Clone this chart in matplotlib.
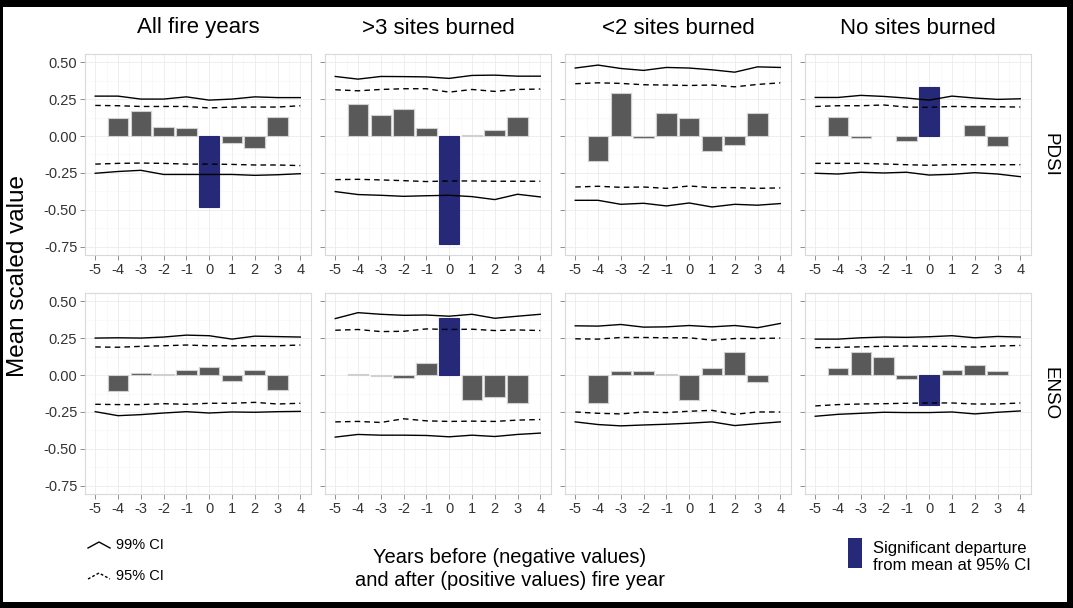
import matplotlib
matplotlib.use("Agg")
import matplotlib.pyplot as plt
import numpy as np
from matplotlib.patches import Rectangle
from matplotlib.lines import Line2D

plt.rcParams['font.family'] = ['Liberation Sans', 'DejaVu Sans']

years = [-5, -4, -3, -2, -1, 0, 1, 2, 3, 4]
bar_years = [-4, -3, -2, -1, 0, 1, 2, 3]
columns = ["All fire years", ">3 sites burned", "<2 sites burned", "No sites burned"]
rows = ["PDSI", "ENSO"]

# bar values (years -4..3); NaN = no bar
pdsi_all = [0.12, 0.17, 0.063, 0.056, -0.48, -0.05, -0.079, 0.128]
pdsi_gt3 = [0.214, 0.142, 0.18, 0.052, -0.732, 0.005, 0.043, 0.128]
pdsi_lt2 = [-0.169, 0.29, -0.014, 0.155, 0.12, -0.101, -0.059, 0.153]
pdsi_none = [0.126, -0.016, np.nan, -0.036, 0.331, np.nan, 0.074, -0.068]
enso_all = [-0.106, 0.011, 0.007, 0.036, 0.056, -0.038, 0.036, -0.101]
enso_gt3 = [0.005, -0.007, -0.02, 0.081, 0.386, -0.168, -0.148, -0.191]
enso_lt2 = [-0.187, 0.027, 0.025, 0.004, -0.169, 0.045, 0.155, -0.047]
enso_none = [0.05, 0.155, 0.122, -0.025, -0.203, 0.034, 0.068, 0.027]

# significant bars (year 0 flagged)
sig_pdsi = [True, True, False, True]
sig_enso = [False, True, False, True]

# confidence limits (years -5..4): 99 upper, 95 upper, 95 lower, 99 lower
ci_pdsi_all = ([0.27, 0.27, 0.25, 0.25, 0.265, 0.243, 0.25, 0.265, 0.26, 0.26],
               [0.207, 0.205, 0.2, 0.2, 0.2, 0.19, 0.196, 0.196, 0.196, 0.205],
               [-0.19, -0.185, -0.183, -0.185, -0.19, -0.19, -0.192, -0.196, -0.196, -0.2],
               [-0.252, -0.24, -0.232, -0.26, -0.26, -0.26, -0.26, -0.266, -0.262, -0.255])
ci_pdsi_gt3 = ([0.403, 0.385, 0.403, 0.402, 0.4, 0.39, 0.41, 0.412, 0.405, 0.405],
               [0.313, 0.306, 0.315, 0.32, 0.32, 0.297, 0.315, 0.302, 0.315, 0.318],
               [-0.295, -0.293, -0.297, -0.302, -0.308, -0.304, -0.304, -0.306, -0.306, -0.306],
               [-0.376, -0.396, -0.401, -0.408, -0.404, -0.401, -0.41, -0.43, -0.394, -0.412])
ci_pdsi_lt2 = ([0.46, 0.48, 0.457, 0.444, 0.464, 0.46, 0.448, 0.432, 0.468, 0.464],
               [0.354, 0.36, 0.356, 0.347, 0.345, 0.342, 0.345, 0.333, 0.349, 0.36],
               [-0.345, -0.34, -0.347, -0.345, -0.354, -0.338, -0.349, -0.349, -0.354, -0.351],
               [-0.435, -0.435, -0.462, -0.455, -0.473, -0.453, -0.48, -0.462, -0.468, -0.457])
ci_pdsi_none = ([0.261, 0.261, 0.275, 0.268, 0.257, 0.243, 0.27, 0.257, 0.248, 0.252],
                [0.2, 0.205, 0.205, 0.21, 0.196, 0.194, 0.2, 0.198, 0.198, 0.196],
                [-0.185, -0.185, -0.185, -0.189, -0.194, -0.198, -0.194, -0.194, -0.194, -0.194],
                [-0.252, -0.257, -0.245, -0.25, -0.245, -0.264, -0.259, -0.248, -0.257, -0.275])
ci_enso_all = ([0.25, 0.252, 0.25, 0.257, 0.27, 0.266, 0.243, 0.263, 0.26, 0.257],
               [0.19, 0.188, 0.194, 0.198, 0.203, 0.198, 0.198, 0.198, 0.198, 0.203],
               [-0.198, -0.2, -0.2, -0.194, -0.198, -0.191, -0.191, -0.185, -0.196, -0.191],
               [-0.248, -0.275, -0.268, -0.257, -0.248, -0.257, -0.25, -0.252, -0.248, -0.246])
ci_enso_gt3 = ([0.382, 0.422, 0.411, 0.404, 0.406, 0.398, 0.411, 0.384, 0.398, 0.411],
               [0.303, 0.308, 0.294, 0.296, 0.312, 0.308, 0.31, 0.301, 0.305, 0.301],
               [-0.317, -0.314, -0.321, -0.296, -0.31, -0.314, -0.312, -0.314, -0.305, -0.301],
               [-0.42, -0.402, -0.407, -0.407, -0.409, -0.418, -0.407, -0.416, -0.402, -0.393])
ci_enso_lt2 = ([0.333, 0.331, 0.342, 0.324, 0.326, 0.335, 0.326, 0.335, 0.32, 0.349],
               [0.245, 0.243, 0.254, 0.254, 0.252, 0.252, 0.236, 0.247, 0.247, 0.25],
               [-0.25, -0.259, -0.263, -0.25, -0.254, -0.245, -0.239, -0.266, -0.25, -0.25],
               [-0.317, -0.335, -0.344, -0.338, -0.333, -0.326, -0.317, -0.342, -0.329, -0.317])
ci_enso_none = ([0.243, 0.243, 0.252, 0.257, 0.255, 0.259, 0.266, 0.252, 0.261, 0.257],
                [0.185, 0.187, 0.191, 0.194, 0.196, 0.194, 0.194, 0.189, 0.196, 0.2],
                [-0.209, -0.2, -0.196, -0.194, -0.191, -0.189, -0.189, -0.196, -0.196, -0.189],
                [-0.279, -0.266, -0.259, -0.252, -0.254, -0.254, -0.25, -0.263, -0.252, -0.243])

bars = [[pdsi_all, pdsi_gt3, pdsi_lt2, pdsi_none],
        [enso_all, enso_gt3, enso_lt2, enso_none]]
cis = [[ci_pdsi_all, ci_pdsi_gt3, ci_pdsi_lt2, ci_pdsi_none],
       [ci_enso_all, ci_enso_gt3, ci_enso_lt2, ci_enso_none]]
sigs = [sig_pdsi, sig_enso]

W, H = 1073, 608
fig = plt.figure(figsize=(W / 100, H / 100), dpi=100)
fig.patch.set_facecolor("white")

GRAY = "#595959"
BLUE = "#262878"
lefts = [85, 325, 565, 805]
tops = [54, 293]
aw, ah = 226, 201


def fx(px):
    return px / W


def fy(py):
    return 1 - py / H


yticks = [0.5, 0.25, 0.0, -0.25, -0.5, -0.75]
for r in range(2):
    for c in range(4):
        ax = fig.add_axes([fx(lefts[c]), fy(tops[r] + ah), aw / W, ah / H])
        ax.set_xlim(-5.45, 4.47)
        ax.set_ylim(-0.805, 0.555)
        vals = bars[r][c]
        colors = [GRAY] * len(bar_years)
        if sigs[r][c]:
            colors[bar_years.index(0)] = BLUE
        ecs = ["#d0d0d0" if col == GRAY else BLUE for col in colors]
        ax.bar(bar_years, vals, width=0.9, color=colors, edgecolor=ecs,
               linewidth=0.8, zorder=3)
        u99, u95, l95, l99 = cis[r][c]
        for arr, ls in ((u99, '-'), (l99, '-'), (u95, (0, (4, 3))), (l95, (0, (4, 3)))):
            ax.plot(years, arr, color="black", lw=1.0, ls=ls, zorder=4)
        ax.set_xticks(years)
        ax.set_xticklabels([str(y) for y in years])
        ax.set_xticks(np.arange(-4.5, 4.5, 1.0), minor=True)
        ax.set_yticks(yticks)
        ax.set_yticks(np.arange(-0.625, 0.55, 0.25), minor=True)
        if c == 0:
            ax.set_yticklabels(["0.50", "0.25", "0.00", "-0.25", "-0.50", "-0.75"])
        else:
            ax.set_yticklabels([])
        ax.grid(True, which="major", color="#ebebeb", lw=0.6, zorder=0)
        ax.grid(True, which="minor", color="#f5f5f5", lw=0.4, zorder=0)
        ax.set_axisbelow(True)
        for s in ax.spines.values():
            s.set_color("#d9d9d9")
            s.set_linewidth(0.8)
        ax.tick_params(which="major", length=3.5, width=0.6, color="#7f7f7f",
                       labelsize=10.5, labelcolor="#333333", pad=2)
        ax.tick_params(which="minor", length=0)
        if r == 0:
            fig.text(fx(lefts[c] + aw / 2), fy(28), columns[c], ha="center",
                     va="center", fontsize=16, color="black")
    fig.text(fx(1050), fy(tops[r] + ah / 2), rows[r], rotation=-90, ha="center",
             va="center", fontsize=13.5)

fig.text(fx(18), fy(276), "Mean scaled value", rotation=90, ha="center",
         va="center", fontsize=17.5)

fig.text(fx(510), fy(569), "Years before (negative values)\nand after (positive values) fire year",
         ha="center", va="center", fontsize=14.5, linespacing=1.3)

# legend: CI lines
for yy, ls, lab in ((545, '-', "99% CI"), (576, (0, (2, 1.5)), "95% CI")):
    fig.add_artist(Line2D([fx(88), fx(99), fx(110)], [fy(yy + 3), fy(yy - 3), fy(yy + 3)],
                          color="black", lw=1.0, ls=ls, transform=fig.transFigure))
    fig.text(fx(116), fy(yy), lab, ha="left", va="center", fontsize=10.5)

# legend: significant bar
fig.add_artist(Rectangle((fx(848), fy(568)), 14 / W, 30 / H, facecolor=BLUE,
                         edgecolor="none", transform=fig.transFigure))
fig.text(fx(873), fy(557), "Significant departure\nfrom mean at 95% CI", ha="left",
         va="center", fontsize=12, linespacing=1.15)

# black frame around the figure
for (x0, y0, w, h) in ((0, 0, W, 7), (0, 0, 3, H), (W - 6, 0, 6, H), (0, H - 6, W, 6)):
    fig.add_artist(Rectangle((fx(x0), fy(y0 + h)), w / W, h / H, facecolor="black",
                             edgecolor="none", transform=fig.transFigure))

fig.savefig("out.png", dpi=100, facecolor="white")
